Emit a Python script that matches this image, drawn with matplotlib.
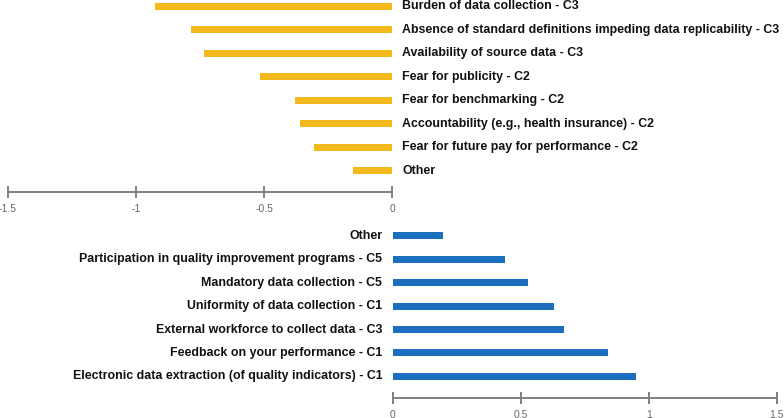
import matplotlib
matplotlib.use("Agg")
import matplotlib.pyplot as plt

# --- Data ---
barrier_labels = [
    "Burden of data collection - C3",
    "Absence of standard definitions impeding data replicability - C3",
    "Availability of source data - C3",
    "Fear for publicity - C2",
    "Fear for benchmarking - C2",
    "Accountability (e.g., health insurance) - C2",
    "Fear for future pay for performance - C2",
    "Other",
]
barrier_values = [-0.926, -0.784, -0.734, -0.516, -0.379, -0.361, -0.306, -0.152]

facilitator_labels = [
    "Other",
    "Participation in quality improvement programs - C5",
    "Mandatory data collection - C5",
    "Uniformity of data collection - C1",
    "External workforce to collect data - C3",
    "Feedback on your performance - C1",
    "Electronic data extraction (of quality indicators) - C1",
]
facilitator_values = [0.195, 0.44, 0.53, 0.631, 0.668, 0.842, 0.95]

top_ticks = [-1.5, -1, -0.5, 0]
top_ticklabels = ["-1.5", "-1", "-0.5", "0"]
bottom_ticks = [0, 0.5, 1, 1.5]
bottom_ticklabels = ["0", "0.5", "1", "1.5"]

orange = "#F2B81C"
blue = "#1C6FBE"
axis_gray = "#808080"

plt.rcParams["font.family"] = ["Liberation Sans", "DejaVu Sans"]

W, H = 784, 418
fig = plt.figure(figsize=(W / 100, H / 100), dpi=100)


def style_axis(ax):
    for s in ["top", "left", "right"]:
        ax.spines[s].set_visible(False)
    ax.spines["bottom"].set_color(axis_gray)
    ax.spines["bottom"].set_linewidth(1.4)
    ax.tick_params(axis="x", direction="inout", length=9, width=1.4,
                   color=axis_gray, labelcolor="#666666", labelsize=7.5, pad=4)
    ax.set_yticks([])
    ax.patch.set_alpha(0)


# --- Top panel: barriers ---
ax1 = fig.add_axes([8 / W, 1 - 191.7 / H, 384 / W, 191.7 / H])
y1 = list(range(len(barrier_labels)))
ax1.barh(y1, barrier_values, height=0.3, color=orange)
ax1.set_xlim(-1.5, 0)
ax1.set_ylim(7.89, -0.27)
ax1.set_xticks(top_ticks)
ax1.set_xticklabels(top_ticklabels)
style_axis(ax1)
for yy, lab in zip(y1, barrier_labels):
    ax1.annotate(lab, (0, yy), xytext=(7.5, 0), textcoords="offset points",
                 ha="left", va="center", fontsize=8.9, fontweight="bold",
                 color="#111111", annotation_clip=False)

# --- Bottom panel: facilitators ---
ax2 = fig.add_axes([392.7 / W, 1 - 397.7 / H, 384 / W, 173.7 / H])
y2 = list(range(len(facilitator_labels)))
ax2.barh(y2, facilitator_values, height=0.3, color=blue)
ax2.set_xlim(0, 1.5)
ax2.set_ylim(6.91, -0.51)
ax2.set_xticks(bottom_ticks)
ax2.set_xticklabels(bottom_ticklabels)
style_axis(ax2)
for yy, lab in zip(y2, facilitator_labels):
    ax2.annotate(lab, (0, yy), xytext=(-7.5, 0), textcoords="offset points",
                 ha="right", va="center", fontsize=8.9, fontweight="bold",
                 color="#111111", annotation_clip=False)

fig.savefig("out.png", dpi=100)
